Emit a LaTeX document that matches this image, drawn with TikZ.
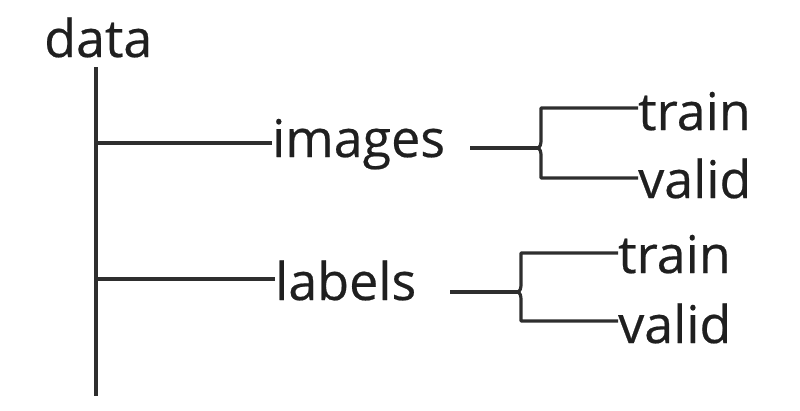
\documentclass[tikz,border=0pt]{standalone}
\usepackage{fontspec}
\setmainfont[FakeBold=0.4]{Open Sans}
\begin{document}
\begin{tikzpicture}[x=1pt,y=-1pt,
  lbl/.style={anchor=base west,inner sep=0pt,font=\fontsize{52}{58}\selectfont,text=black!88},
  ln/.style={line width=3.2pt,draw=black!82}]
\useasboundingbox (0,0) rectangle (800,410);
% labels
\node[lbl] (data) at (44,57) {data};
\node[lbl] (images) at (272,157) {images};
\node[lbl] (labels) at (275,300) {labels};
\node[lbl] (train1) at (638,130) {train};
\node[lbl] (valid1) at (638,198) {valid};
\node[lbl] (train2) at (618,273) {train};
\node[lbl] (valid2) at (618,343) {valid};
% trunk
\coordinate (top) at (96,67);
\coordinate (bot) at (96,396);
\coordinate (j1) at (96,143);
\coordinate (j2) at (96,279);
\draw[ln] (top) -- (bot);
\draw[ln] (j1) -- (images.west |- j1);
\draw[ln] (j2) -- (labels.west |- j2);
% brace 1
\coordinate (s1) at (470,148);
\coordinate (b1) at (537,148);
\draw[ln] (s1) -- (b1);
\draw[ln,line join=round] (train1.west |- 0,108) -- (541,108) -- (541,140)
   to[out=-90,in=0] (537,148) to[out=0,in=90] (541,156) -- (541,178) -- (valid1.west |- 0,178);
% brace 2
\coordinate (s2) at (450,292);
\coordinate (b2) at (517,292);
\draw[ln] (s2) -- (b2);
\draw[ln,line join=round] (train2.west |- 0,253) -- (521,253) -- (521,284)
   to[out=-90,in=0] (517,292) to[out=0,in=90] (521,300) -- (521,321) -- (valid2.west |- 0,321);
\end{tikzpicture}
\end{document}
